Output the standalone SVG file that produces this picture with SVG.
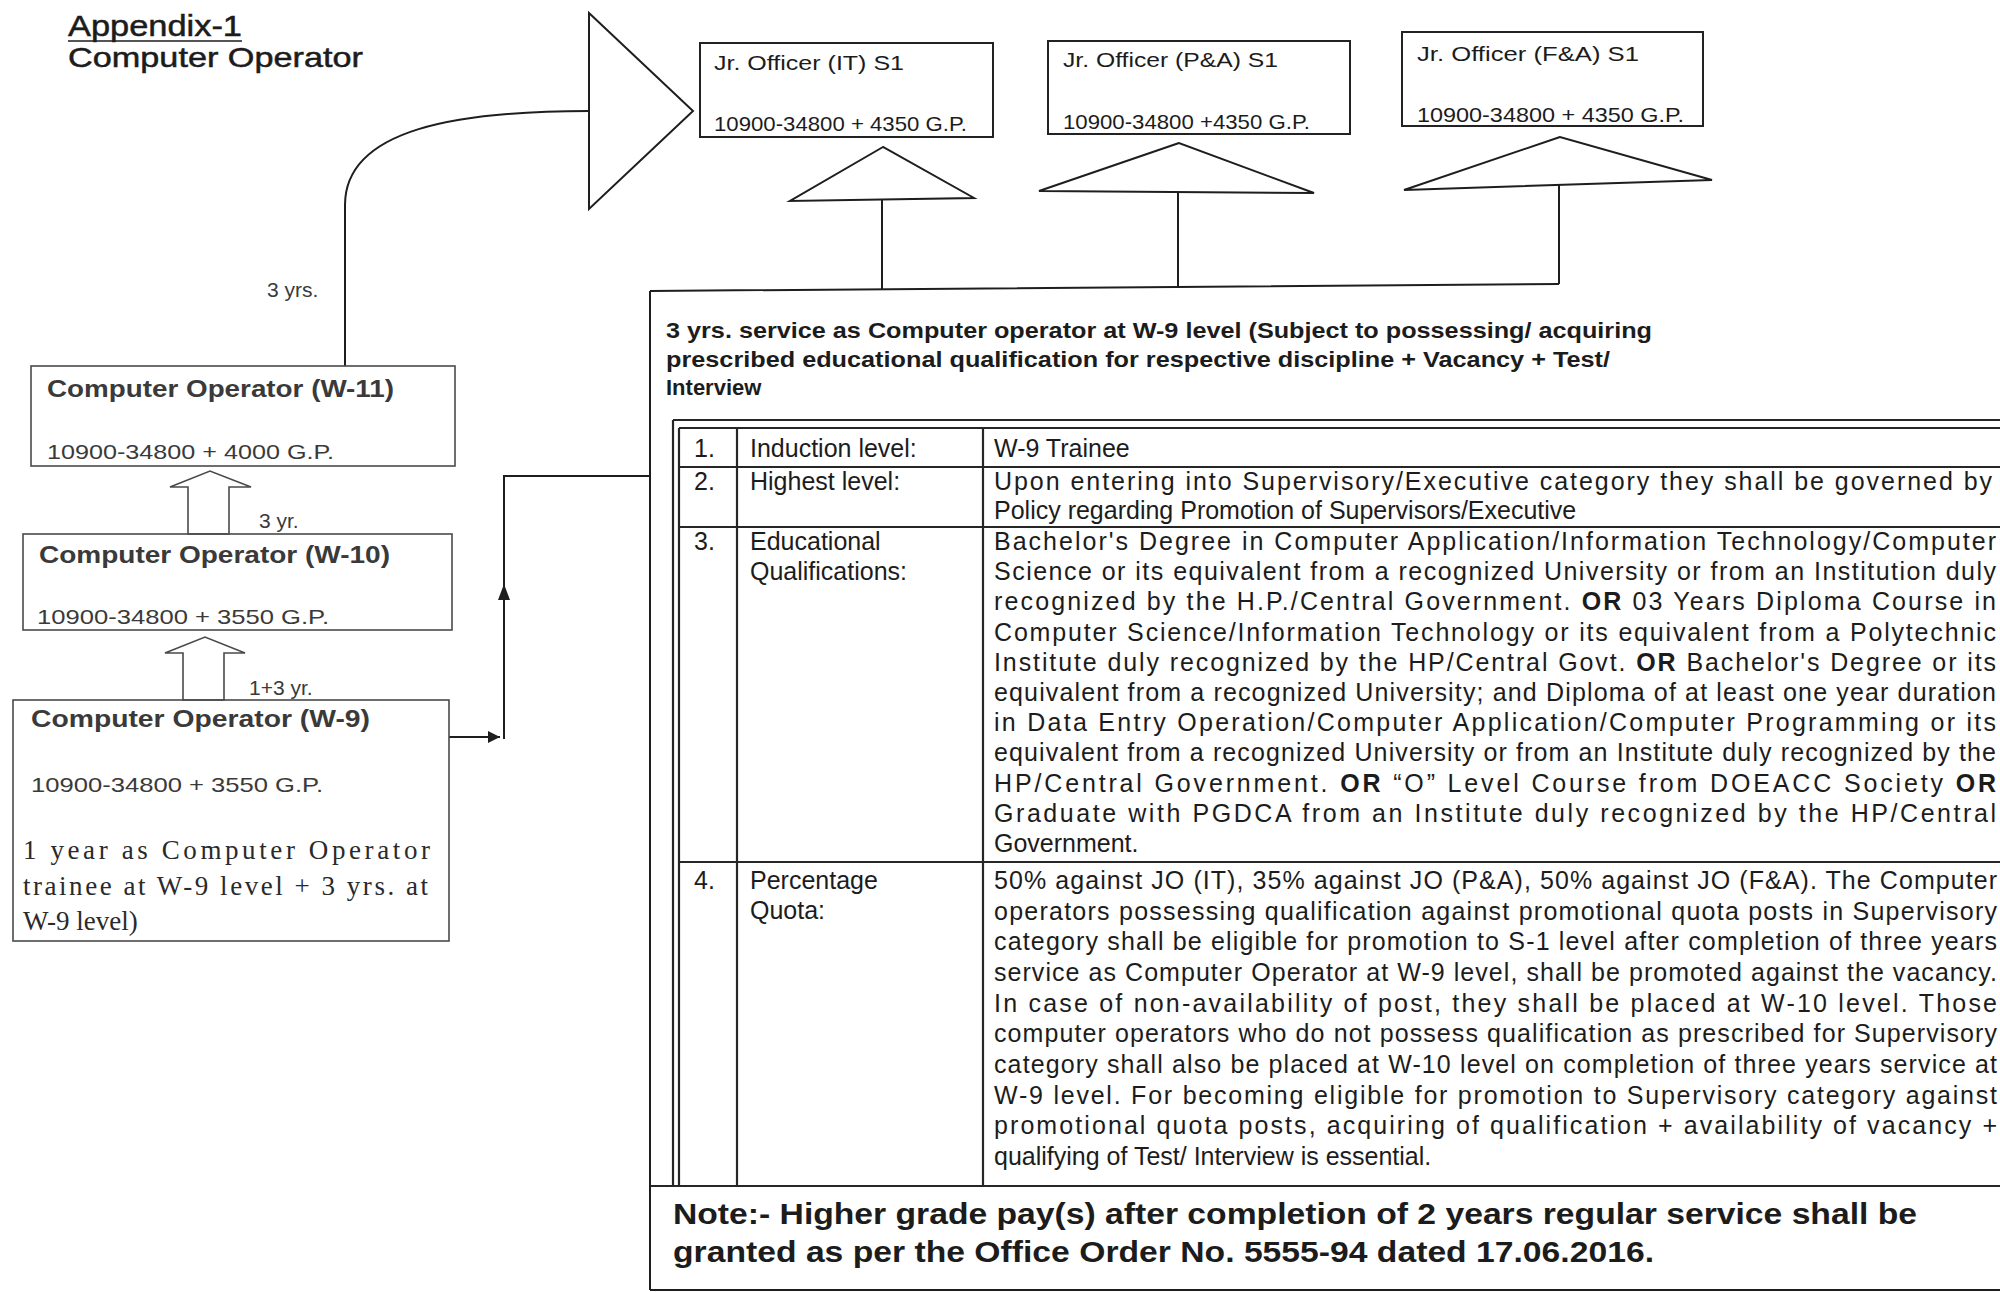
<svg xmlns="http://www.w3.org/2000/svg" width="2000" height="1292" viewBox="0 0 2000 1292">
<defs>
<style>
.t{font-family:"Liberation Sans",Arial,sans-serif;fill:#1c1c1c}
.b{font-weight:bold}
.g{fill:#3a3a3a}
.s{font-family:"Liberation Serif","Times New Roman",serif;fill:#2a2a2a}
.bx{fill:none;stroke:#4a4a4a;stroke-width:1.6}
.jb{fill:none;stroke:#222;stroke-width:2}
.ln{fill:none;stroke:#1e1e1e;stroke-width:2}
.tl{fill:none;stroke:#262626;stroke-width:2.2}
</style>
<marker id="ah" viewBox="0 0 10 10" refX="10" refY="5" markerWidth="12" markerHeight="12" markerUnits="userSpaceOnUse" orient="auto"><path d="M0,0 L10,5 L0,10 Z" fill="#1e1e1e"/></marker>
</defs>
<rect width="2000" height="1292" fill="#fff"/>

<g id="title">
<text class="t" x="68" y="36" font-size="30" textLength="174" lengthAdjust="spacingAndGlyphs" stroke="#1c1c1c" stroke-width="0.5">Appendix-1</text>
<line x1="68" y1="41" x2="242" y2="41" stroke="#1c1c1c" stroke-width="1.6"/>
<text class="t" x="68" y="67" font-size="28" textLength="295" lengthAdjust="spacingAndGlyphs" stroke="#1c1c1c" stroke-width="0.5">Computer Operator</text>
</g>

<g id="connectors">
<path class="ln" d="M345,366 L345,205 C345,128 460,111 589,111"/>
<polygon class="ln" points="589,13 693,111 589,209"/>
<path class="ln" d="M449,737 H500" marker-end="url(#ah)"/>
<path class="ln" d="M504,739 V476 H650"/>
<polygon points="504,584 498,600 510,600" fill="#1e1e1e"/>
<polygon class="bx" points="188,534 188,487 170,487 210,471 251,487 229,487 229,534"/>
<polygon class="bx" points="183,700 183,653 165,653 205,637 245,653 224,653 224,700"/>
<polygon class="ln" points="883,147 790,201 974,198"/>
<polygon class="ln" points="1179,143 1039,191 1314,193"/>
<polygon class="ln" points="1560,137 1404,190 1712,180"/>
<path class="ln" d="M882,199 V289 M1178,193 V287 M1559,185 V284"/>
</g>

<g id="label-3yrs"><text class="t g" x="267" y="297" font-size="21">3 yrs.</text></g>
<g id="label-3yr"><text class="t g" x="259" y="528" font-size="21">3 yr.</text></g>
<g id="label-1p3yr"><text class="t g" x="249" y="695" font-size="21">1+3 yr.</text></g>

<g id="w11">
<rect class="bx" x="31" y="366" width="424" height="100"/>
<text class="t b g" x="47" y="397" font-size="24" textLength="347" lengthAdjust="spacingAndGlyphs">Computer Operator (W-11)</text>
<text class="t g" x="47" y="459" font-size="21" textLength="287" lengthAdjust="spacingAndGlyphs">10900-34800 + 4000 G.P.</text>
</g>

<g id="w10">
<rect class="bx" x="23" y="534" width="429" height="96"/>
<text class="t b g" x="39" y="563" font-size="24" textLength="351" lengthAdjust="spacingAndGlyphs">Computer Operator (W-10)</text>
<text class="t g" x="37" y="624" font-size="21" textLength="292" lengthAdjust="spacingAndGlyphs">10900-34800 + 3550 G.P.</text>
</g>

<g id="w9">
<rect class="bx" x="13" y="700" width="436" height="241"/>
<text class="t b g" x="31" y="727" font-size="24" textLength="339" lengthAdjust="spacingAndGlyphs">Computer Operator (W-9)</text>
<text class="t g" x="31" y="792" font-size="21" textLength="292" lengthAdjust="spacingAndGlyphs">10900-34800 + 3550 G.P.</text>
<text class="s" x="23" y="859" font-size="27" textLength="407" lengthAdjust="spacing">1 year as Computer Operator</text>
<text class="s" x="23" y="895" font-size="27" textLength="405" lengthAdjust="spacing">trainee at W-9 level + 3 yrs. at</text>
<text class="s" x="23" y="930" font-size="27">W-9 level)</text>
</g>

<g id="jo-it">
<rect class="jb" x="700" y="43" width="293" height="94"/>
<text class="t" x="714" y="70" font-size="21" textLength="190" lengthAdjust="spacingAndGlyphs">Jr. Officer (IT) S1</text>
<text class="t" x="714" y="131" font-size="21" textLength="253" lengthAdjust="spacingAndGlyphs">10900-34800 + 4350 G.P.</text>
</g>
<g id="jo-pa">
<rect class="jb" x="1048" y="41" width="302" height="93"/>
<text class="t" x="1063" y="67" font-size="21" textLength="215" lengthAdjust="spacingAndGlyphs">Jr. Officer (P&amp;A) S1</text>
<text class="t" x="1063" y="129" font-size="21" textLength="247" lengthAdjust="spacingAndGlyphs">10900-34800 +4350 G.P.</text>
</g>
<g id="jo-fa">
<rect class="jb" x="1402" y="32" width="301" height="94"/>
<text class="t" x="1417" y="61" font-size="21" textLength="222" lengthAdjust="spacingAndGlyphs">Jr. Officer (F&amp;A) S1</text>
<text class="t" x="1417" y="122" font-size="21" textLength="267" lengthAdjust="spacingAndGlyphs">10900-34800 + 4350 G.P.</text>
</g>

<g id="criteria">
<path class="ln" d="M650,291 L1559,284 M650,291 V1290 M650,1290 H2000"/>
<text class="t b" x="666" y="338" font-size="22" textLength="986" lengthAdjust="spacingAndGlyphs">3 yrs. service as Computer operator at W-9 level (Subject to possessing/ acquiring</text>
<text class="t b" x="666" y="367" font-size="22" textLength="944" lengthAdjust="spacingAndGlyphs">prescribed educational qualification for respective discipline + Vacancy + Test/</text>
<text class="t b" x="666" y="395" font-size="22">Interview</text>

<path class="tl" d="M673,420 H2000 M679,428 H2000 M673,420 V1186 M679,428 V1186 M737,428 V1186 M983,428 V1186 M679,467 H2000 M679,527 H2000 M679,862 H2000 M650,1186 H2000"/>

<text class="t" x="694" y="457" font-size="25">1.</text>
<text class="t" x="750" y="457" font-size="25">Induction level:</text>
<text class="t" x="994" y="457" font-size="25">W-9 Trainee</text>

<text class="t" x="694" y="490" font-size="25">2.</text>
<text class="t" x="750" y="490" font-size="25">Highest level:</text>
<text class="t" x="994" y="490" font-size="25" textLength="998" lengthAdjust="spacing">Upon entering into Supervisory/Executive  category they shall be governed by</text>
<text class="t" x="994" y="519" font-size="25">Policy regarding Promotion of Supervisors/Executive</text>

<text class="t" x="694" y="550" font-size="25">3.</text>
<text class="t" x="750" y="550" font-size="25">Educational</text>
<text class="t" x="750" y="580" font-size="25">Qualifications:</text>
<text class="t" x="994" y="550" font-size="25" textLength="1002" lengthAdjust="spacing">Bachelor's Degree in Computer Application/Information Technology/Computer</text>
<text class="t" x="994" y="580" font-size="25" textLength="1002" lengthAdjust="spacing">Science or its equivalent from a recognized University or from an Institution duly</text>
<text class="t" x="994" y="610" font-size="25" textLength="1002" lengthAdjust="spacing">recognized by the H.P./Central Government. <tspan class="b">OR</tspan> 03 Years Diploma Course in</text>
<text class="t" x="994" y="641" font-size="25" textLength="1002" lengthAdjust="spacing">Computer Science/Information Technology or its equivalent from a Polytechnic</text>
<text class="t" x="994" y="671" font-size="25" textLength="1002" lengthAdjust="spacing">Institute duly recognized by the HP/Central Govt. <tspan class="b">OR</tspan> Bachelor's Degree or its</text>
<text class="t" x="994" y="701" font-size="25" textLength="1002" lengthAdjust="spacing">equivalent from a recognized University; and Diploma of at least one year duration</text>
<text class="t" x="994" y="731" font-size="25" textLength="1002" lengthAdjust="spacing">in Data Entry Operation/Computer Application/Computer Programming or its</text>
<text class="t" x="994" y="761" font-size="25" textLength="1002" lengthAdjust="spacing">equivalent from a recognized University or from an Institute duly recognized by the</text>
<text class="t" x="994" y="792" font-size="25" textLength="1002" lengthAdjust="spacing">HP/Central Government. <tspan class="b">OR</tspan> “O” Level Course from DOEACC Society <tspan class="b">OR</tspan></text>
<text class="t" x="994" y="822" font-size="25" textLength="1002" lengthAdjust="spacing">Graduate with PGDCA from an Institute duly recognized by the HP/Central</text>
<text class="t" x="994" y="852" font-size="25">Government.</text>

<text class="t" x="694" y="889" font-size="25">4.</text>
<text class="t" x="750" y="889" font-size="25">Percentage</text>
<text class="t" x="750" y="919" font-size="25">Quota:</text>
<text class="t" x="994" y="889" font-size="25" textLength="1003" lengthAdjust="spacing">50% against JO (IT), 35% against JO (P&amp;A), 50% against JO (F&amp;A). The Computer</text>
<text class="t" x="994" y="920" font-size="25" textLength="1003" lengthAdjust="spacing">operators possessing qualification against promotional quota posts in Supervisory</text>
<text class="t" x="994" y="950" font-size="25" textLength="1003" lengthAdjust="spacing">category shall be eligible for promotion to S-1 level after completion of three years</text>
<text class="t" x="994" y="981" font-size="25" textLength="1003" lengthAdjust="spacing">service as Computer Operator at W-9 level,  shall be promoted against the vacancy.</text>
<text class="t" x="994" y="1012" font-size="25" textLength="1003" lengthAdjust="spacing">In case of non-availability of post, they shall be placed at W-10 level. Those</text>
<text class="t" x="994" y="1042" font-size="25" textLength="1003" lengthAdjust="spacing">computer operators who do not possess qualification as prescribed for Supervisory</text>
<text class="t" x="994" y="1073" font-size="25" textLength="1003" lengthAdjust="spacing">category shall also be placed at W-10 level on completion of three years service at</text>
<text class="t" x="994" y="1104" font-size="25" textLength="1003" lengthAdjust="spacing">W-9 level. For becoming eligible for promotion to Supervisory category against</text>
<text class="t" x="994" y="1134" font-size="25" textLength="1003" lengthAdjust="spacing">promotional quota posts, acquiring of qualification + availability of vacancy +</text>
<text class="t" x="994" y="1165" font-size="25">qualifying of Test/ Interview is essential.</text>

<text class="t b" x="673" y="1224" font-size="29" textLength="1244" lengthAdjust="spacingAndGlyphs">Note:- Higher grade pay(s) after completion of 2 years regular service shall be</text>
<text class="t b" x="673" y="1262" font-size="29" textLength="981" lengthAdjust="spacingAndGlyphs">granted as per the Office Order No. 5555-94 dated 17.06.2016.</text>
</g>
</svg>
